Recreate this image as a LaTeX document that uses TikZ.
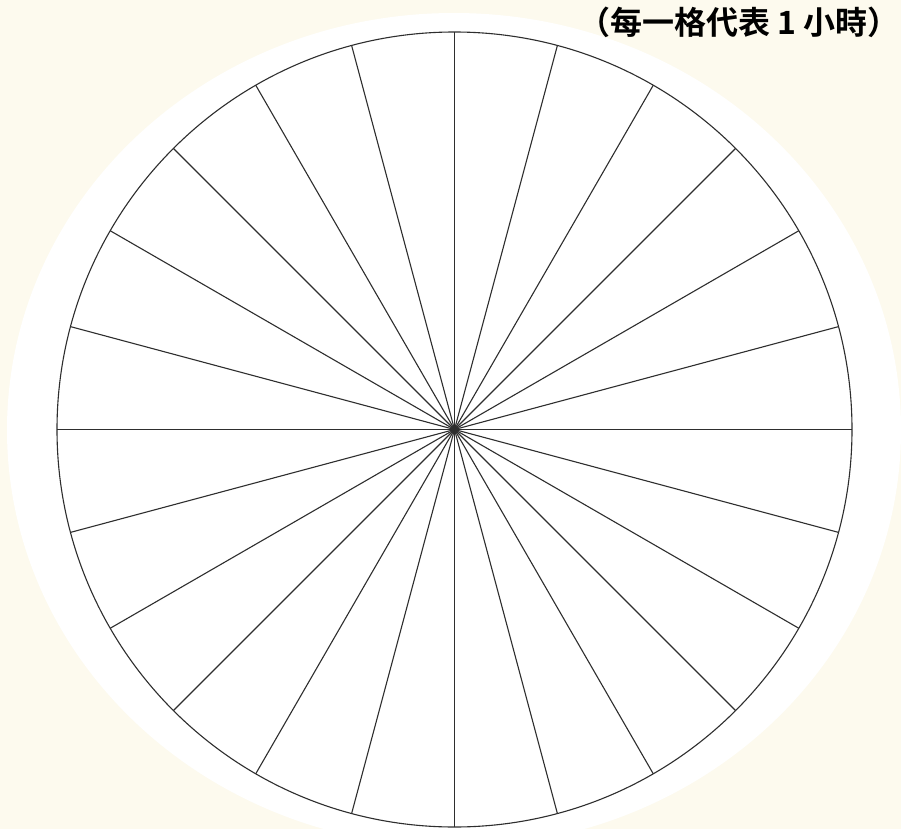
\documentclass[tikz,border=0pt]{standalone}
\usepackage{fontspec}
\newfontfamily\cjk{Noto Sans CJK TC}[BoldFont={* Bold}]
\definecolor{cream}{HTML}{FDFAEE}
\definecolor{spoke}{HTML}{2E2E2E}
\tikzset{
  spokeline/.style={draw=spoke, line width=1.1pt},
  dialstyle/.style={circle, draw=spoke, line width=1.1pt, fill=white, minimum size=795pt, inner sep=0pt, outer sep=0pt},
  note/.style={font=\cjk\bfseries\fontsize{32pt}{34pt}\selectfont, inner sep=0pt, anchor=east}
}
\begin{document}
\begin{tikzpicture}[x=1pt, y=-1pt]
  \fill[cream] (0,0) rectangle (901,829);
  \useasboundingbox (0,0) rectangle (901,829);
  \fill[white] (454,430) ellipse [x radius=447, y radius=417];
  \node[dialstyle] (dial) at (454.5,429.5) {};
  \coordinate (c) at (dial.center);
  \foreach \a in {0,15,...,345} {
    \draw[spokeline] (c) -- (dial.\a);
  }
  \fill[spoke] (c) circle [radius=3.5pt];
  \node[note] (title) at (900,22) {（每一格代表 1 小時）};
\end{tikzpicture}
\end{document}
